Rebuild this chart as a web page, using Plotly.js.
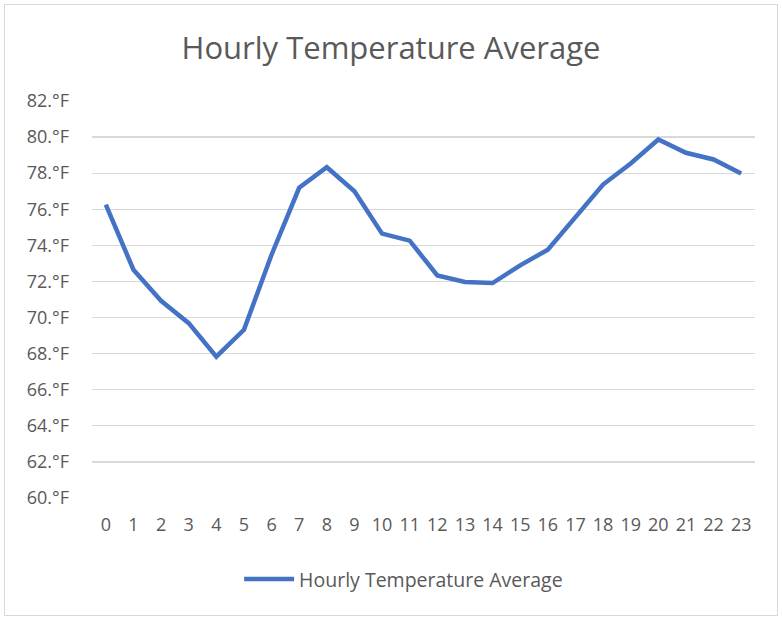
<!DOCTYPE html>
<html>
<head>
<meta charset="utf-8">
<script src="https://cdn.plot.ly/plotly-3.0.1.min.js"></script>
<style>
  html, body { margin: 0; padding: 0; background: #fff; }
  #chart { width: 782px; height: 620px; }
  #frame { position: absolute; left: 4px; top: 4px; width: 772px; height: 610px; border: 1px solid #d9d9d9; pointer-events: none; }
</style>
</head>
<body>
<div id="chart"></div>
<div id="frame"></div>
<script>
const hours = ["0","1","2","3","4","5","6","7","8","9","10","11","12","13","14","15","16","17","18","19","20","21","22","23"];
const temps = [76.26, 72.65, 70.93, 69.69, 67.83, 69.32, 73.48, 77.19, 78.33, 77.0, 74.65, 74.26, 72.33, 71.97, 71.91, 72.89, 73.76, 75.61, 77.37, 78.54, 79.87, 79.13, 78.76, 77.98];
const yTickVals = [60, 62, 64, 66, 68, 70, 72, 74, 76, 78, 80, 82];
const yTickText = ["60.°F","62.°F","64.°F","66.°F","68.°F","70.°F","72.°F","74.°F","76.°F","78.°F","80.°F","82.°F"];
const seriesName = "Hourly Temperature Average";
const chartTitle = "Hourly Temperature Average";

const font = "Open Sans, Noto Sans, sans-serif";
const trace = {
  x: hours, y: temps, type: "scatter", mode: "lines", name: seriesName,
  line: { color: "#4472C4", width: 4.5, shape: "linear" }
};
const layout = {
  width: 782, height: 620,
  paper_bgcolor: "#ffffff", plot_bgcolor: "#ffffff",
  margin: { l: 92, r: 27, t: 101, b: 122 },
  title: { text: chartTitle, font: { family: font, size: 31, color: "#595959" }, x: 0.5, xanchor: "center", y: 0.923, yanchor: "middle" },
  xaxis: {
    type: "category", range: [-0.5, 23.5], showgrid: false, zeroline: false, showline: false,
    ticks: "", tickfont: { family: font, size: 18, color: "#595959" }, ticklabelstandoff: 14
  },
  yaxis: {
    range: [60, 82], tickvals: yTickVals, ticktext: yTickText, showgrid: true,
    gridcolor: "#d9d9d9", gridwidth: 1.3, zeroline: false, showline: false, ticks: "",
    tickfont: { family: font, size: 18, color: "#595959" }, ticklabelstandoff: 22
  },
  showlegend: true,
  legend: { orientation: "h", x: 0.47, xanchor: "center", y: -0.205, yanchor: "middle",
            font: { family: font, size: 19.5, color: "#595959" }, itemwidth: 50 },
};
Plotly.newPlot("chart", [trace], layout, { displayModeBar: false, staticPlot: true });
</script>
</body>
</html>
